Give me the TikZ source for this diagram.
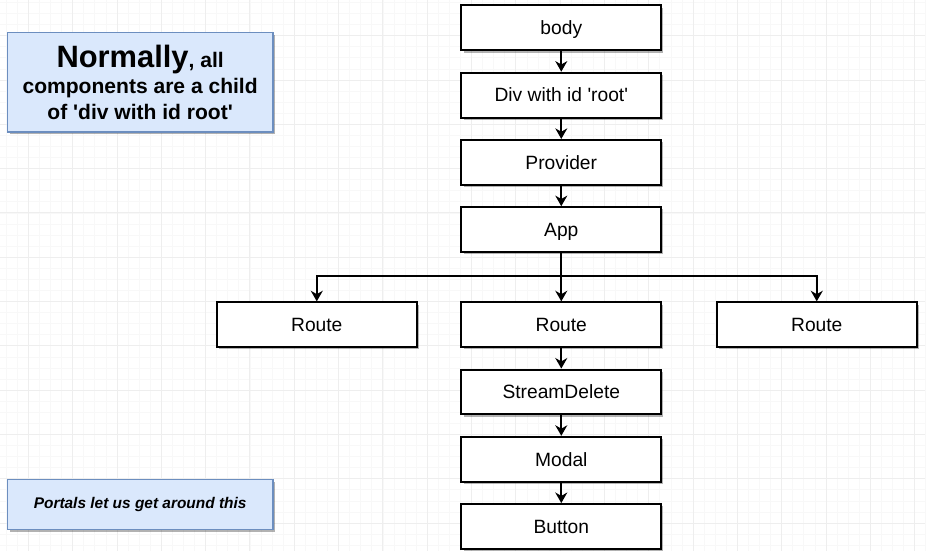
\documentclass[tikz,border=0pt]{standalone}
\usepackage{fontspec}
\setmainfont{Liberation Sans}
\usetikzlibrary{arrows.meta, positioning, shadows}
\definecolor{notefill}{HTML}{DAE8FC}
\definecolor{noteline}{HTML}{6C8EBF}
\definecolor{gridminor}{HTML}{F8F8F8}
\definecolor{gridmajor}{HTML}{EEEEEE}

\begin{document}
\begin{tikzpicture}[
        x=0.025cm, y=-0.025cm,
        comp/.style={rectangle, draw, line width=1.4pt, fill=white, align=center, minimum width=5cm, minimum height=1.125cm,
            text height=9.8pt, text depth=0pt, font=\fontsize{13.7}{16}\selectfont,
            drop shadow={shadow xshift=1.6pt, shadow yshift=-1.6pt, fill=black, opacity=0.3}},
        note/.style={rectangle, draw=noteline, line width=1.1pt, fill=notefill, align=center, minimum width=6.65cm,
            drop shadow={shadow xshift=1.6pt, shadow yshift=-1.6pt, fill=black, opacity=0.3}},
        arrow/.style={-{Stealth[length=7.5pt, width=8.5pt, inset=2.4pt]}, line width=1.4pt},
        node distance=0.51cm
        ]

        % Background grid
        \fill[white] (0,0) rectangle (926,552);
        \foreach \i in {0,...,83} \draw[gridminor, line width=0.5pt] ({5.8+11.1*\i},0) -- ++(0,552);
        \foreach \i in {0,...,49} \draw[gridminor, line width=0.5pt] (0,{2+11.1*\i}) -- ++(926,0);
        \foreach \i in {0,...,20} \draw[gridmajor, line width=0.6pt] ({28+44.4*\i},0) -- ++(0,552);
        \foreach \i in {0,...,11} \draw[gridmajor, line width=0.6pt] (0,{35.3+44.4*\i}) -- ++(926,0);
        \useasboundingbox (0,0) rectangle (926,552);

        % Nodes
        \node (body) [comp] at (562,27.5) {body};
        \node (divroot) [comp, below=of body] {Div with id \textquotesingle root\textquotesingle};
        \node (provider) [comp, below=of divroot] {Provider};
        \node (app) [comp, below=of provider] {App};
        \node (routemid) [comp] at (562,325) {Route};
        \node (routeleft) [comp] at (317,325) {Route};
        \node (routeright) [comp] at (818,325) {Route};
        \node (streamdelete) [comp, below=of routemid] {StreamDelete};
        \node (modal) [comp, below=of streamdelete] {Modal};
        \node (button) [comp, below=of modal] {Button};
        \coordinate (split) at (562,276);

        \node (note1) [note, minimum height=2.5cm, font=\bfseries\fontsize{15}{18.6}\selectfont] at (140,82)
            {{\fontsize{22}{18.6}\selectfont Normally}, all\\ components are a child\\ of \textquotesingle div with id root\textquotesingle};
        \node (note2) [note, minimum height=1.25cm, font=\bfseries\itshape\fontsize{11}{13}\selectfont] at (140,505) {Portals let us get around this};

        % Arrows
        \draw [arrow] (body) -- (divroot);
        \draw [arrow] (divroot) -- (provider);
        \draw [arrow] (provider) -- (app);
        \draw [arrow] (app) -- (routemid);
        \draw [arrow] (split) -| (routeleft);
        \draw [arrow] (split) -| (routeright);
        \draw [arrow] (routemid) -- (streamdelete);
        \draw [arrow] (streamdelete) -- (modal);
        \draw [arrow] (modal) -- (button);

\end{tikzpicture}
\end{document}
